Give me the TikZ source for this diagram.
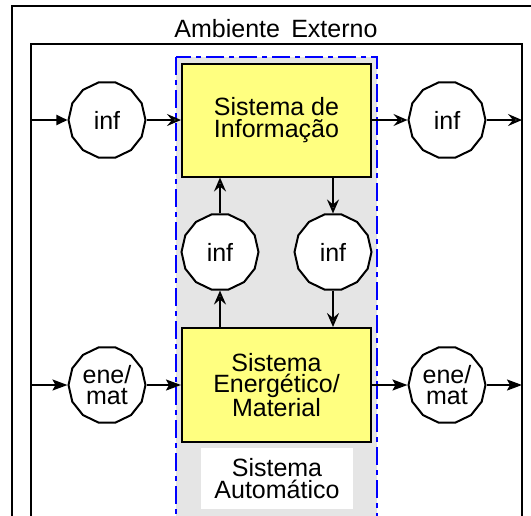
\documentclass[tikz,border=0pt]{standalone}
\usepackage{fontspec}
\setmainfont{Liberation Sans}
\usetikzlibrary{shapes.geometric,arrows.meta}
\definecolor{boxyellow}{RGB}{255,255,128}
\definecolor{sysgrey}{RGB}{229,229,229}
\begin{document}
\begin{tikzpicture}[x=1pt,y=-1pt,line width=2pt,
  font=\fontsize{25}{21.5}\selectfont,
  poly/.style={regular polygon,regular polygon sides=14,minimum size=77pt,inner sep=0pt,draw,fill=white},
  ybox/.style={draw,fill=boxyellow,minimum width=189pt,minimum height=113pt,inner sep=0pt,align=center},
  txt/.style={align=center,inner sep=0pt},
  opn/.style={-{Stealth[open,length=14pt,width=12pt,inset=5pt,line width=2pt]}},
  fil/.style={-{Stealth[length=15pt,width=11pt,inset=3pt]}},
  tri/.style={-{Triangle[length=11pt,width=10pt]}}]
\useasboundingbox (0,0) rectangle (531,515);
\clip (0,0) rectangle (531,515);
% frames
\draw (12,6) rectangle (545,540);
\draw (31,44) rectangle (522,540);
\node[anchor=base] (title) at (276,37) {Ambiente\hspace{0.45em}Externo};
\filldraw[fill=sysgrey,draw=blue,dash pattern=on 18pt off 5pt on 5pt off 5pt] (176,57) rectangle (377,540);
\node[fill=white,minimum width=152pt,minimum height=61pt,inner sep=0pt,align=center] (auto) at (277,478.5) {Sistema\\Automático};
% boxes
\node[ybox] (s1) at (276.5,120) {Sistema de\\Informação};
\node[ybox,minimum height=114pt] (s2) at (276.5,385) {Sistema\\Energético/\\Material};
% circles
\node[poly] (c1) at (107,120) {};
\node[txt] at (c1) {inf};
\node[poly] (c2) at (447,120) {};
\node[txt] at (c2) {inf};
\node[poly] (m1) at (220,252) {};
\node[txt] at (m1) {inf};
\node[poly] (m2) at (333,252) {};
\node[txt] at (m2) {inf};
\node[poly] (e1) at (107,385) {};
\node[txt] at (e1) {ene/\\mat};
\node[poly] (e2) at (447,385) {};
\node[txt] at (e2) {ene/\\mat};
% free ends
\coordinate (inT) at (31,120);
\coordinate (outT) at (522,120);
\coordinate (inB) at (31,385);
\coordinate (outB) at (522,385);
% connectors top
\draw[tri] (inT) -- (c1.west);
\draw[opn] (c1.east) -- (s1.west);
\draw[opn] (s1.east) -- (c2.west);
\draw[opn] (c2.east) -- (outT);
% connectors bottom
\draw[fil] (inB) -- (e1.west);
\draw[fil] (e1.east) -- (s2.west);
\draw[fil] (s2.east) -- (e2.west);
\draw[fil] (e2.east) -- (outB);
% vertical
\draw[opn] (s2.north -| m1.south) -- (m1.south);
\draw[opn] (m1.north) -- (m1.north |- s1.south);
\draw[opn] (s1.south -| m2.north) -- (m2.north);
\draw[opn] (m2.south) -- (m2.south |- s2.north);
\end{tikzpicture}
\end{document}
